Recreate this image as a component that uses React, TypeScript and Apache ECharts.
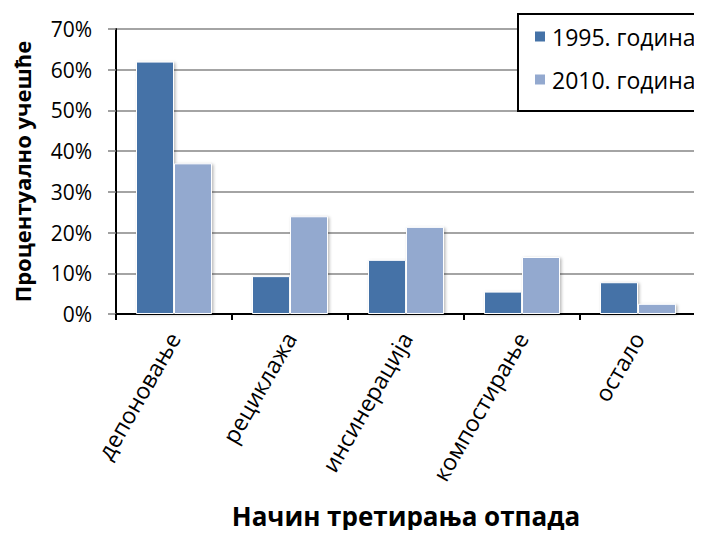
import React, { useEffect, useRef } from "react";
import * as echarts from "echarts";

// Начин третирања отпада — удео по годинама (%)
const categories = ["депоновање", "рециклажа", "инсинерација", "компостирање", "остало"];
const series1995 = [62, 9.3, 13.3, 5.5, 7.8];
const series2010 = [37, 24, 21.4, 14, 2.5];
const seriesNames = ["1995. година", "2010. година"];
const yTicks = { min: 0, max: 70, interval: 10 };

const FONT = "'Open Sans', 'Noto Sans', sans-serif";
const DARK = "#4572A7";
const LIGHT = "#93A9CF";

export default function App() {
  const ref = useRef<HTMLDivElement>(null);

  useEffect(() => {
    if (!ref.current) return;
    const chart = echarts.init(ref.current, undefined, { renderer: "svg" });

    const barStyle = (color: string) => ({
      color,
      borderColor: "#ffffff",
      borderWidth: 1,
      shadowBlur: 3,
      shadowOffsetX: 1.5,
      shadowOffsetY: 1,
      shadowColor: "rgba(0,0,0,0.28)",
    });

    chart.setOption({
      animation: false,
      backgroundColor: "#ffffff",
      textStyle: { fontFamily: FONT },
      grid: { left: 116, right: 6, top: 29, bottom: 224, containLabel: false },
      graphic: [
        {
          // legend background, open towards the right edge of the canvas
          type: "rect",
          x: 518,
          y: 14,
          z: 5,
          shape: { x: 0, y: 0, width: 200, height: 97 },
          style: { fill: "#ffffff" },
        },
        {
          type: "polyline",
          z: 6,
          shape: { points: [[720, 14], [518, 14], [518, 111], [720, 111]] },
          style: { fill: null, stroke: "#000000", lineWidth: 2 },
        },
      ],
      legend: {
        orient: "vertical",
        left: 533,
        top: 25,
        z: 7,
        itemGap: 20,
        itemWidth: 12,
        itemHeight: 12,
        icon: "rect",
        padding: 0,
        textStyle: { fontFamily: FONT, fontSize: 23, color: "#000000", padding: [0, 0, 0, 1] },
        data: seriesNames,
      },
      xAxis: {
        type: "category",
        data: categories,
        name: "Начин третирања отпада",
        nameLocation: "middle",
        nameGap: 189,
        nameTextStyle: { fontFamily: FONT, fontSize: 26, fontWeight: "bold", color: "#000000" },
        axisLine: { lineStyle: { color: "#000000", width: 2 } },
        axisTick: { show: true, alignWithLabel: false, length: 6, lineStyle: { color: "#000000", width: 2 } },
        axisLabel: {
          rotate: 60,
          margin: 20,
          fontFamily: FONT,
          fontSize: 23,
          color: "#000000",
          interval: 0,
        },
      },
      yAxis: {
        type: "value",
        min: yTicks.min,
        max: yTicks.max,
        interval: yTicks.interval,
        name: "Процентуално учешће",
        nameLocation: "middle",
        nameGap: 83,
        nameRotate: 90,
        nameTextStyle: { fontFamily: FONT, fontSize: 22, fontWeight: "bold", color: "#000000" },
        axisLine: { show: true, lineStyle: { color: "#000000", width: 2 } },
        axisTick: { show: true, length: 8, lineStyle: { color: "#808080", width: 1.5 } },
        splitLine: { show: true, lineStyle: { color: "#868686", width: 1.5 } },
        axisLabel: {
          margin: 24,
          fontFamily: FONT,
          fontSize: 21,
          color: "#000000",
          formatter: "{value}%",
        },
      },
      series: [
        {
          name: seriesNames[0],
          type: "bar",
          data: series1995,
          barWidth: 38,
          barGap: "0%",
          itemStyle: barStyle(DARK),
        },
        {
          name: seriesNames[1],
          type: "bar",
          data: series2010,
          barWidth: 38,
          barGap: "0%",
          itemStyle: barStyle(LIGHT),
        },
      ],
    });

    return () => chart.dispose();
  }, []);

  return <div ref={ref} style={{ width: 702, height: 538, margin: -8 }} />;
}
